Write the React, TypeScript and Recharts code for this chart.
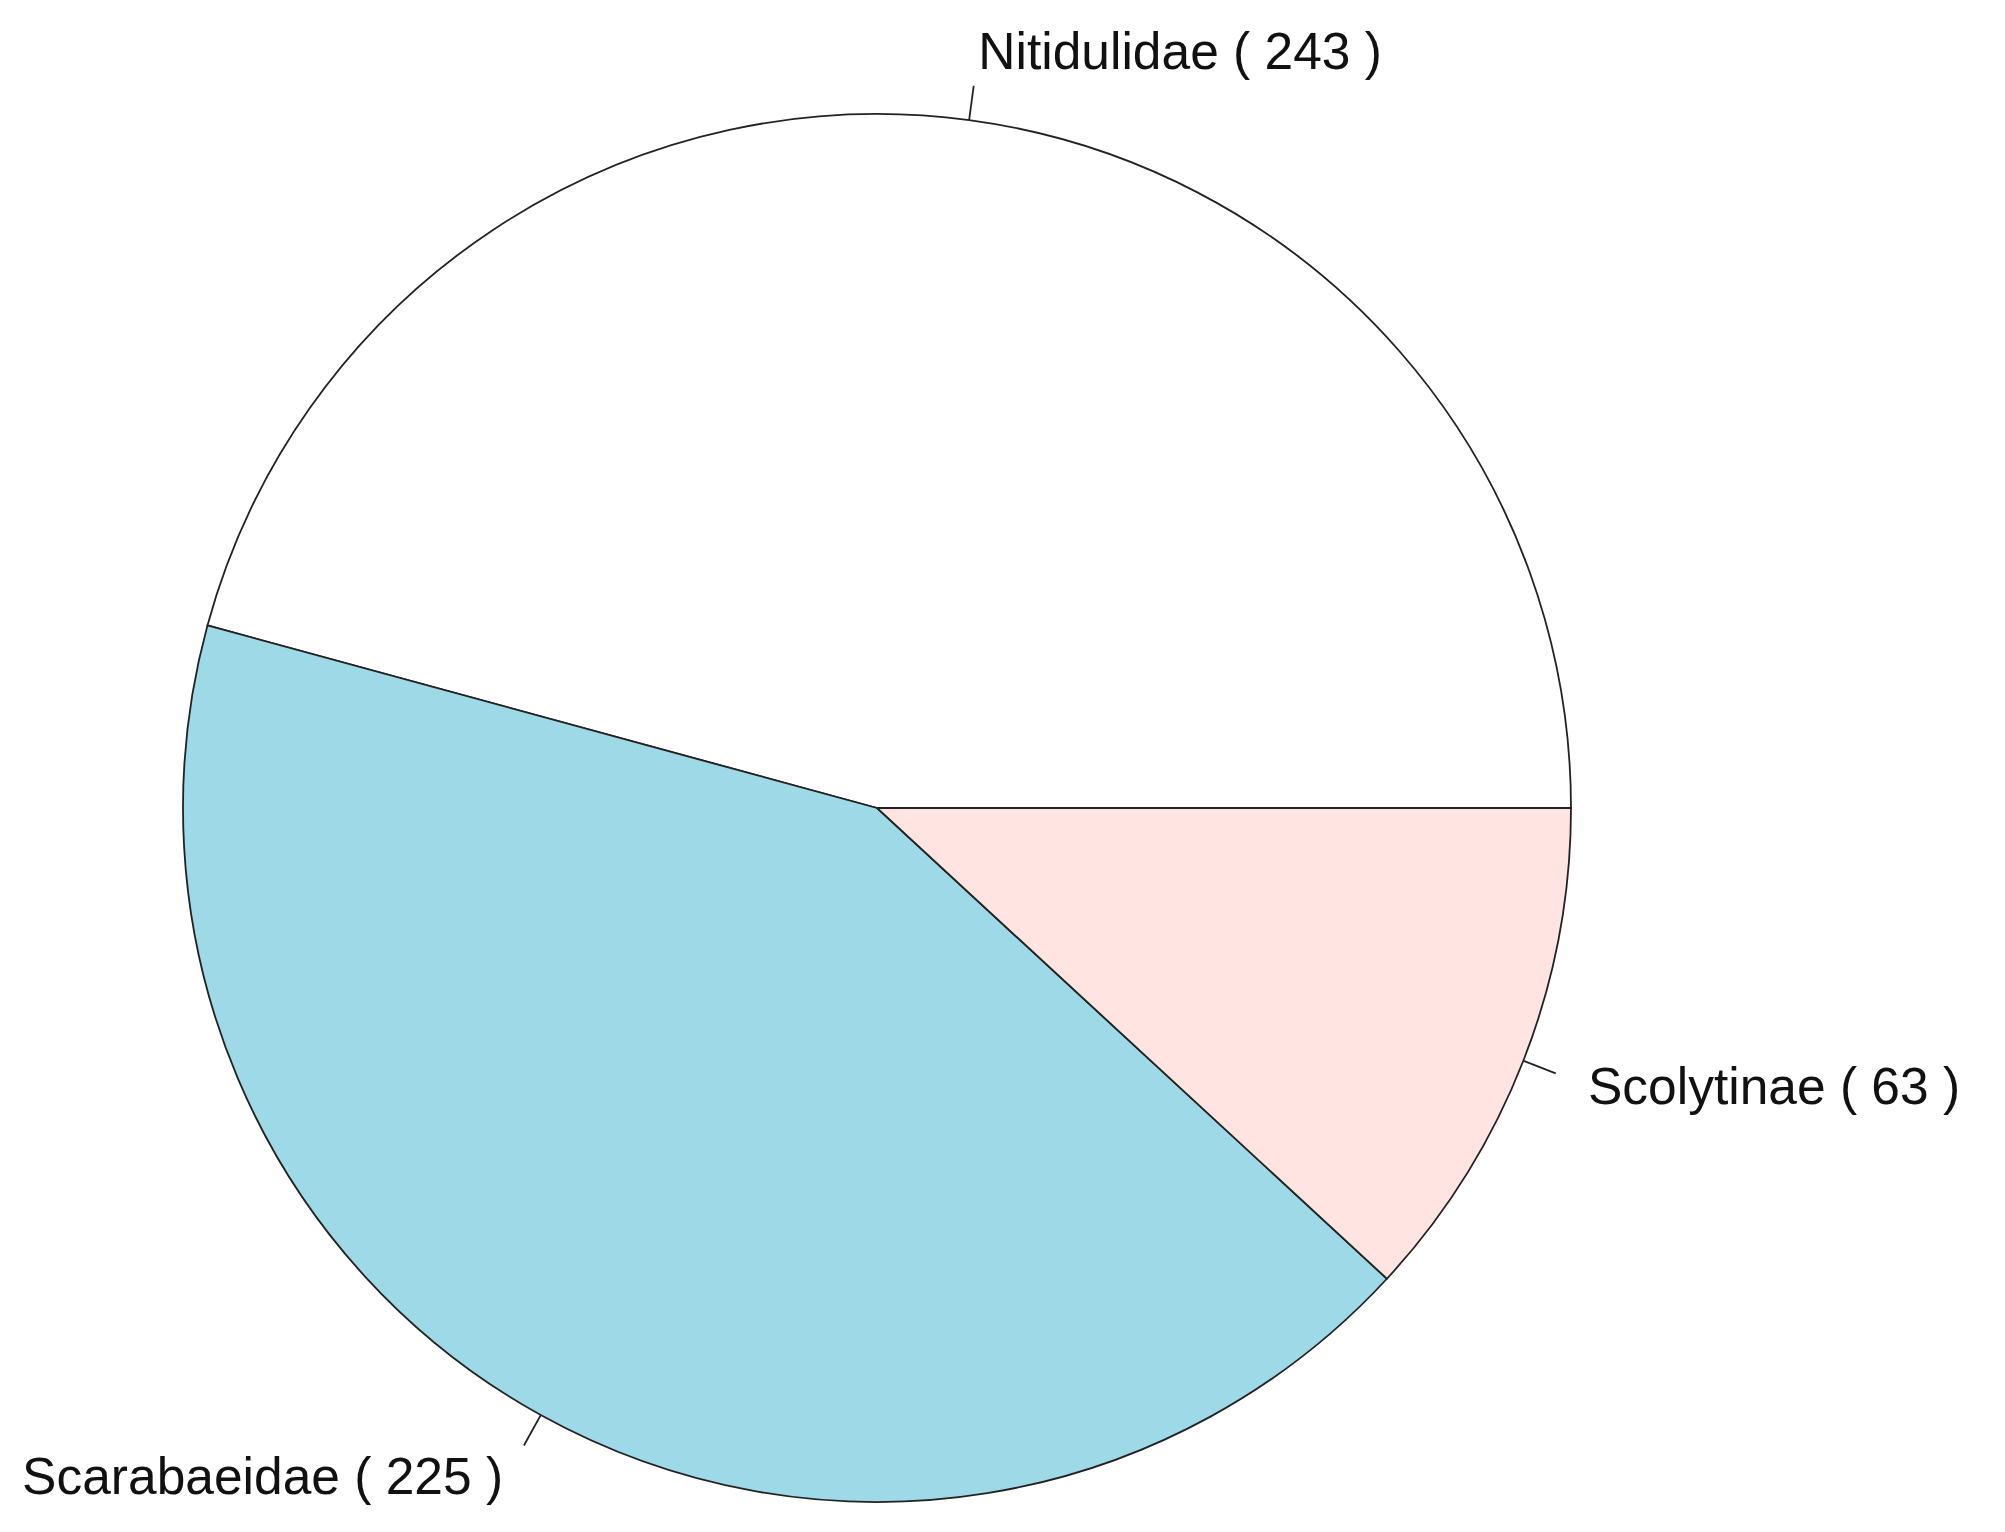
import { Cell, Pie, PieChart } from 'recharts';

const families = ['Nitidulidae', 'Scarabaeidae', 'Scolytinae'];
const counts = [243, 225, 63];
const sliceColors = ['#ffffff', '#9ed9e8', '#ffe4e1'];

const data = families.map((name, i) => ({ name, value: counts[i] }));

const RAD = Math.PI / 180;

function renderLabel(props: any) {
  const { cx, cy, midAngle, outerRadius, name, value } = props;
  const c = Math.cos(-midAngle * RAD);
  const s = Math.sin(-midAngle * RAD);
  const x1 = cx + outerRadius * c;
  const y1 = cy + outerRadius * s;
  const x2 = cx + outerRadius * 1.05 * c;
  const y2 = cy + outerRadius * 1.05 * s;
  const right = c >= 0;
  const tx = cx + outerRadius * 1.1 * c + (right ? 0 : -4);
  const ty = cy + outerRadius * 1.1 * s;
  return (
    <g>
      <line x1={x1} y1={y1} x2={x2} y2={y2} stroke="#222" strokeWidth={1.8} />
      <text
        x={tx}
        y={ty}
        textAnchor={right ? 'start' : 'end'}
        dominantBaseline="central"
        fill="#111"
        fontSize={51.5}
        fontFamily="'Liberation Sans', Arial, sans-serif"
      >
        {`${name} ( ${value} )`}
      </text>
    </g>
  );
}

export default function App() {
  return (
    <div style={{ position: 'absolute', left: 0, top: 0, width: 2005, height: 1532, background: '#fff' }}>
      <PieChart width={2005} height={1532} margin={{ top: 0, right: 0, bottom: 0, left: 0 }}>
        <Pie
          data={data}
          dataKey="value"
          nameKey="name"
          cx={877}
          cy={808}
          outerRadius={694}
          startAngle={0}
          endAngle={360}
          stroke="#222"
          strokeWidth={1.8}
          label={renderLabel}
          labelLine={false}
          isAnimationActive={false}
        >
          {data.map((d, i) => (
            <Cell key={d.name} fill={sliceColors[i]} />
          ))}
        </Pie>
      </PieChart>
    </div>
  );
}
